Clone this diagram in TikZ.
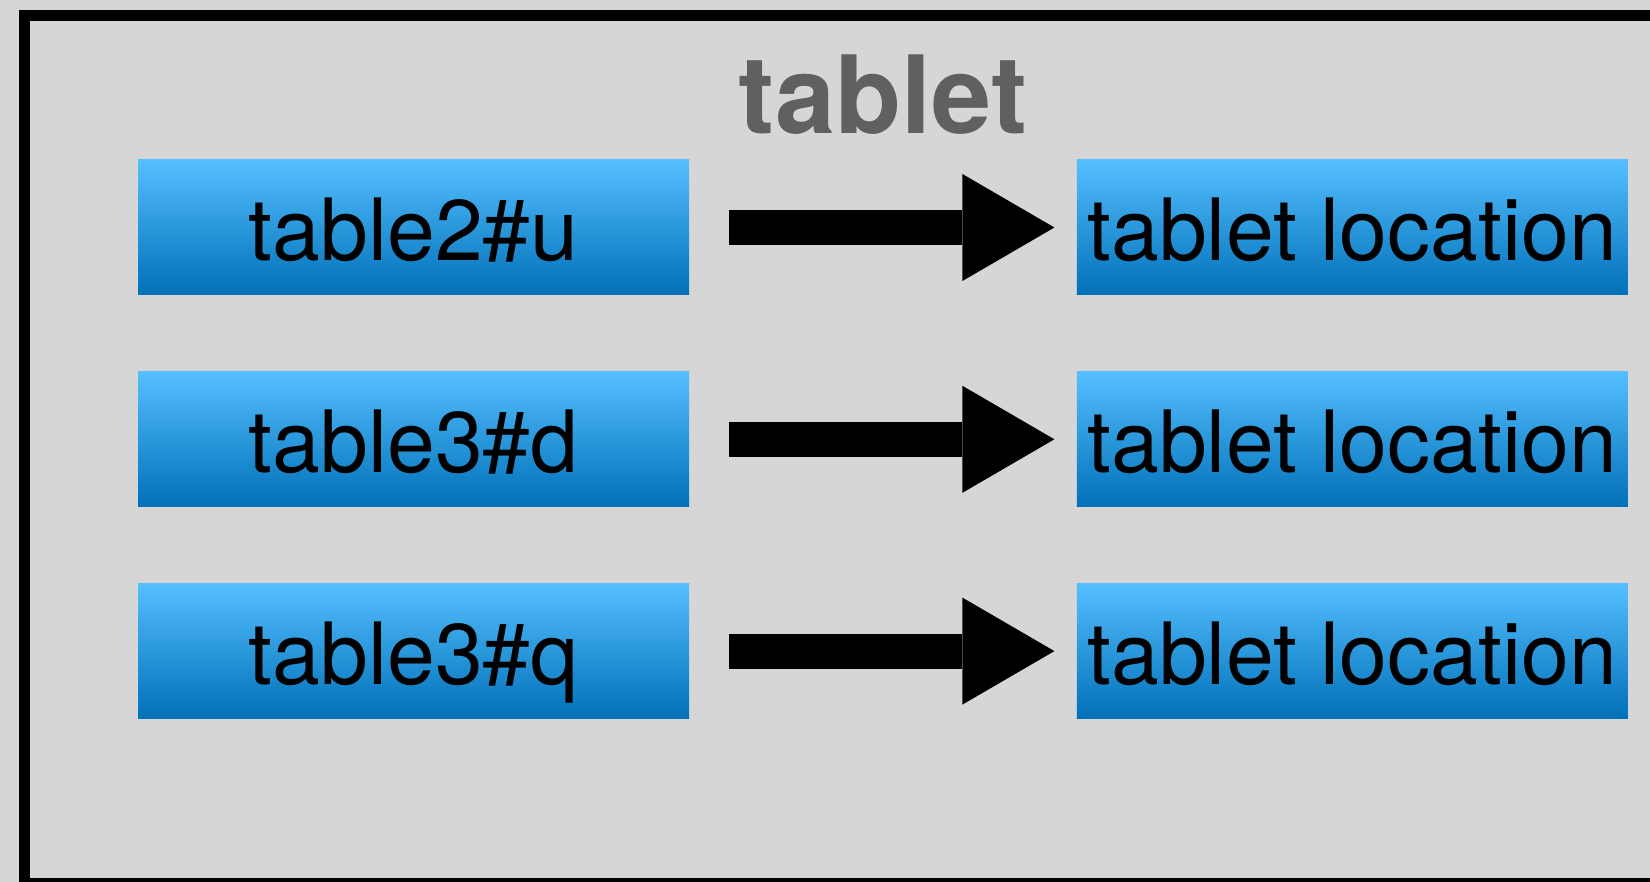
\documentclass[tikz,border=0pt]{standalone}
\usepackage{fontspec}
\setmainfont{TeX Gyre Heros}
\usetikzlibrary{arrows.meta,positioning}
\definecolor{canvas}{HTML}{D6D6D6}
\definecolor{ttlgray}{HTML}{606060}
\definecolor{bluetop}{HTML}{55BFFF}
\definecolor{bluebot}{HTML}{0070B8}

\begin{document}
\begin{tikzpicture}[x=0.5pt,y=-0.5pt,
  cell/.style={top color=bluetop,bottom color=bluebot,inner sep=0pt,
               minimum width=275.5pt,minimum height=67.5pt,
               text height=33.5pt,text depth=0pt,
               font=\fontsize{43}{43}\selectfont},
  fat/.style={-{Triangle[length=46pt,width=53.5pt,line width=0pt]},
              line width=17.5pt,shorten <=20pt,shorten >=11pt}]
  \useasboundingbox (0,0) rectangle (1650,882);
  \fill[canvas] (0,0) rectangle (1650,882);
  \clip (0,0) rectangle (1650,882);
  \draw[line width=5.5pt] (24.5,15.5) rectangle (1720,883.5);
  \node[anchor=base,text=ttlgray,font=\fontsize{54}{54}\selectfont\bfseries]
       (title) at (883,134) {tablet};
  \node[cell] (src1) at (413.5,227.5) {table2\#u};
  \node[cell,below=38pt of src1] (src2) {table3\#d};
  \node[cell,below=38pt of src2] (src3) {table3\#q};
  \node[cell,right=193.5pt of src1] (loc1) {tablet location};
  \node[cell,right=193.5pt of src2] (loc2) {tablet location};
  \node[cell,right=193.5pt of src3] (loc3) {tablet location};
  \draw[fat] (src1) -- (loc1);
  \draw[fat] (src2) -- (loc2);
  \draw[fat] (src3) -- (loc3);
\end{tikzpicture}
\end{document}
